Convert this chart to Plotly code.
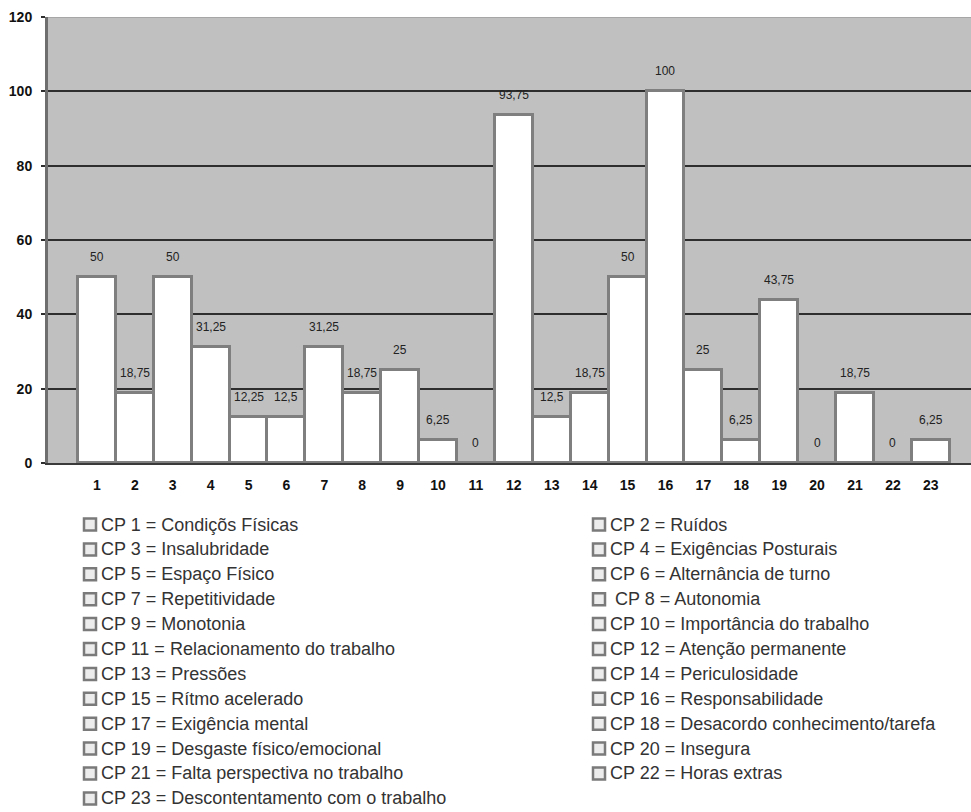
import plotly.graph_objects as go

# Percentages per CP factor (1..23)
categories = list(range(1, 24))
values = [50, 18.75, 50, 31.25, 12.25, 12.5, 31.25, 18.75, 25, 6.25, 0,
          93.75, 12.5, 18.75, 50, 100, 25, 6.25, 43.75, 0, 18.75, 0, 6.25]
x_tick_labels = [str(c) for c in categories]
y_tick_values = [0, 20, 40, 60, 80, 100, 120]
y_tick_labels = [str(v) for v in y_tick_values]

legend_left = [
    "CP 1 = Condiçõs Físicas",
    "CP 3 = Insalubridade",
    "CP 5 = Espaço Físico",
    "CP 7 = Repetitividade",
    "CP 9 = Monotonia",
    "CP 11 = Relacionamento do trabalho",
    "CP 13 = Pressões",
    "CP 15 = Rítmo acelerado",
    "CP 17 = Exigência mental",
    "CP 19 = Desgaste físico/emocional",
    "CP 21 = Falta perspectiva no trabalho",
    "CP 23 = Descontentamento com o trabalho",
]
legend_right = [
    "CP 2 = Ruídos",
    "CP 4 = Exigências Posturais",
    "CP 6 = Alternância de turno",
    " CP 8 = Autonomia",
    "CP 10 = Importância do trabalho",
    "CP 12 = Atenção permanente",
    "CP 14 = Periculosidade",
    "CP 16 = Responsabilidade",
    "CP 18 = Desacordo conhecimento/tarefa",
    "CP 20 = Insegura",
    "CP 22 = Horas extras",
]

W, H = 971, 812
L, R, T, B = 48, 971, 17, 463  # plot area in pixels


def px_x(x):
    return (x - L) / (R - L)


def px_y(y):
    return (B - y) / (B - T)


def fmt(v):
    return f"{v:g}".replace(".", ",")


fig = go.Figure()
fig.add_trace(go.Bar(
    x=categories,
    y=values,
    width=1.0,
    marker=dict(color="white", line=dict(color="#7f7f7f", width=3)),
    hoverinfo="x+y",
))

annotations = []
# value labels above each bar
for c, v in zip(categories, values):
    annotations.append(dict(
        x=c, y=v, xref="x", yref="y", text=fmt(v), showarrow=False,
        yanchor="middle", yshift=20,
        font=dict(family="Liberation Sans, Arial, sans-serif", size=12, color="#222222"),
    ))

shapes = []
# lighter frame line along the top of the plot area
shapes.append(dict(type="line", xref="paper", yref="y", x0=0, x1=1, y0=120, y1=120,
                   line=dict(color="#a6a6a6", width=2), layer="above"))

row0, pitch = 524.5, 24.9
columns = [(legend_left, 84, 99), (legend_right, 593, 608)]
for labels, bx, tx in columns:
    for i, label in enumerate(labels):
        yc = row0 + pitch * i
        shapes.append(dict(
            type="rect", xref="paper", yref="paper",
            x0=px_x(bx), x1=px_x(bx + 12), y0=px_y(yc + 6), y1=px_y(yc - 6),
            line=dict(color="#7a7a7a", width=2.5), fillcolor="#ececec",
        ))
        annotations.append(dict(
            x=px_x(tx), y=px_y(yc), xref="paper", yref="paper",
            text=label.replace(" ", "&nbsp;", 1) if label.startswith(" ") else label,
            showarrow=False, xanchor="left", yanchor="middle",
            font=dict(family="Liberation Sans, Arial, sans-serif", size=18, color="#333333"),
        ))

fig.update_layout(
    width=W, height=H,
    margin=dict(l=L, r=W - R, t=T, b=H - B, pad=0),
    paper_bgcolor="white",
    plot_bgcolor="#c0c0c0",
    showlegend=False,
    bargap=0,
    annotations=annotations,
    shapes=shapes,
)
fig.update_xaxes(
    range=[-0.29, 24.06],
    tickvals=categories, ticktext=x_tick_labels,
    showgrid=False, zeroline=False,
    showline=True, linecolor="#3a3a3a", linewidth=2,
    ticks="", ticklabelstandoff=8,
    tickfont=dict(family="Liberation Sans, Arial, sans-serif", size=14, color="#111111", weight="bold"),
)
fig.update_yaxes(
    range=[0, 120],
    tickvals=y_tick_values, ticktext=y_tick_labels,
    showgrid=True, gridcolor="#2e2e2e", gridwidth=2,
    zeroline=False,
    showline=True, linecolor="#6e6e6e", linewidth=3,
    ticks="outside", ticklen=4, tickwidth=2, tickcolor="#2e2e2e",
    ticklabelstandoff=6,
    tickfont=dict(family="Liberation Sans, Arial, sans-serif", size=14, color="#111111", weight="bold"),
)

fig.write_html("out.html")
